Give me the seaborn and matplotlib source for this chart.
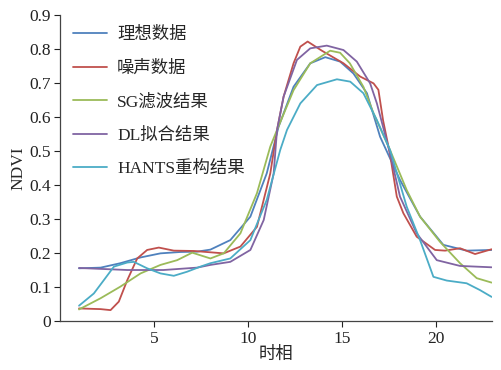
import numpy as np
import pandas as pd
import seaborn as sns
import matplotlib
matplotlib.use("Agg")
import matplotlib.pyplot as plt

# ---- data ----
ideal_t = [1, 2.15, 3.2, 4.28, 5.34, 6.4, 7.29, 8.0, 9.06, 10.13, 11.0, 11.63, 12.43, 13.32,
           14.12, 14.91, 15.62, 16.34, 17.04, 18.1, 19.17, 20.41, 21.65, 22.98]
ideal_v = [0.155, 0.157, 0.17, 0.187, 0.199, 0.203, 0.204, 0.21, 0.238, 0.307, 0.434, 0.571,
           0.689, 0.758, 0.776, 0.763, 0.728, 0.67, 0.542, 0.415, 0.307, 0.224, 0.207, 0.209]

noise_t = [1, 2.15, 2.68, 3.12, 3.57, 4.1, 4.63, 5.25, 6.05, 7.11, 8.71, 9.6, 10.48, 11.19,
           11.55, 11.9, 12.43, 12.79, 13.18, 13.94, 15.09, 15.98, 16.69, 16.95, 17.2, 17.57,
           17.93, 18.28, 18.99, 19.97, 20.5, 21.3, 22.1, 22.98]
noise_v = [0.037, 0.035, 0.032, 0.057, 0.12, 0.184, 0.209, 0.216, 0.207, 0.206, 0.199, 0.219,
           0.277, 0.434, 0.562, 0.66, 0.758, 0.807, 0.822, 0.795, 0.758, 0.719, 0.699, 0.68,
           0.59, 0.49, 0.366, 0.317, 0.248, 0.209, 0.207, 0.214, 0.197, 0.211]

sg_t = [1, 2.15, 3.2, 4.28, 5.34, 6.23, 7.03, 8.0, 8.71, 9.6, 10.48, 11.19, 11.55, 12.43,
        13.32, 14.38, 14.91, 15.43, 16.15, 16.69, 17.57, 18.46, 19.17, 20.23, 21.3, 22.19, 22.98]
sg_v = [0.034, 0.067, 0.101, 0.14, 0.165, 0.179, 0.201, 0.184, 0.199, 0.258, 0.376, 0.513,
        0.562, 0.679, 0.758, 0.795, 0.789, 0.758, 0.689, 0.611, 0.503, 0.385, 0.307, 0.233,
        0.17, 0.126, 0.113]

dl_t = [1, 3.57, 5.5, 7.29, 8.0, 9.06, 10.13, 10.84, 11.37, 11.55, 11.9, 12.61, 13.32, 14.2,
        15.09, 15.8, 16.51, 16.87, 17.57, 18.1, 18.99, 20.06, 21.3, 22.98]
dl_v = [0.156, 0.15, 0.15, 0.157, 0.165, 0.174, 0.209, 0.297, 0.434, 0.562, 0.66, 0.768,
        0.802, 0.81, 0.797, 0.763, 0.699, 0.64, 0.493, 0.366, 0.258, 0.179, 0.162, 0.158]

hants_t = [1, 1.79, 2.32, 2.86, 3.57, 3.92, 4.63, 5.34, 6.05, 6.76, 7.47, 8.0, 9.06, 10.13,
           11.0, 11.72, 12.08, 12.79, 13.68, 14.74, 15.45, 16.15, 16.87, 17.57, 18.46, 19.17,
           19.88, 20.59, 21.65, 22.36, 22.98]
hants_v = [0.045, 0.081, 0.12, 0.16, 0.172, 0.174, 0.155, 0.14, 0.133, 0.145, 0.16, 0.17,
           0.184, 0.238, 0.356, 0.503, 0.562, 0.64, 0.694, 0.711, 0.704, 0.67, 0.591, 0.503,
           0.336, 0.238, 0.13, 0.119, 0.111, 0.091, 0.071]

labels = ["理想数据", "噪声数据", "SG滤波结果", "DL拟合结果", "HANTS重构结果"]
colors = ["#4F81BD", "#C0504D", "#9BBB59", "#8064A2", "#4BACC6"]

frames = []
for lab, t, v in zip(labels, [ideal_t, noise_t, sg_t, dl_t, hants_t],
                     [ideal_v, noise_v, sg_v, dl_v, hants_v]):
    frames.append(pd.DataFrame({"t": t, "v": v, "series": lab}))
df = pd.concat(frames, ignore_index=True)

sns.set_style("ticks")
plt.rcParams["font.family"] = ["Liberation Serif", "Noto Sans CJK SC", "DejaVu Sans"]
plt.rcParams["font.size"] = 12

fig = plt.figure(figsize=(5.02, 3.70), dpi=100)
ax = fig.add_axes([0.12, 0.1324, 0.86, 0.827])

sns.lineplot(data=df, x="t", y="v", hue="series", hue_order=labels,
             palette=colors, ax=ax, linewidth=1.3, estimator=None, sort=True)

ax.set_xlim(0, 23)
ax.set_ylim(0, 0.9)
ax.set_xticks([5, 10, 15, 20])
ax.set_yticks(np.arange(0, 0.91, 0.1))
ax.set_yticklabels(["0"] + [f"{y:.1f}" for y in np.arange(0.1, 0.91, 0.1)])
ax.tick_params(direction="out", length=4, width=0.8, labelsize=12.5, colors="#222222", pad=3)
for s in ["top", "right"]:
    ax.spines[s].set_visible(False)
for s in ["left", "bottom"]:
    ax.spines[s].set_color("#444444")
    ax.spines[s].set_linewidth(0.9)

ax.set_xlabel("时相", fontsize=12.5, labelpad=0)
ax.set_ylabel("NDVI", fontsize=12.5, labelpad=2)

leg = ax.legend(loc="upper left", bbox_to_anchor=(0.014, 0.984), frameon=False,
                fontsize=12.5, handlelength=1.95, handletextpad=0.57, labelspacing=1.0,
                borderaxespad=0)

fig.savefig("out.png", dpi=100)
